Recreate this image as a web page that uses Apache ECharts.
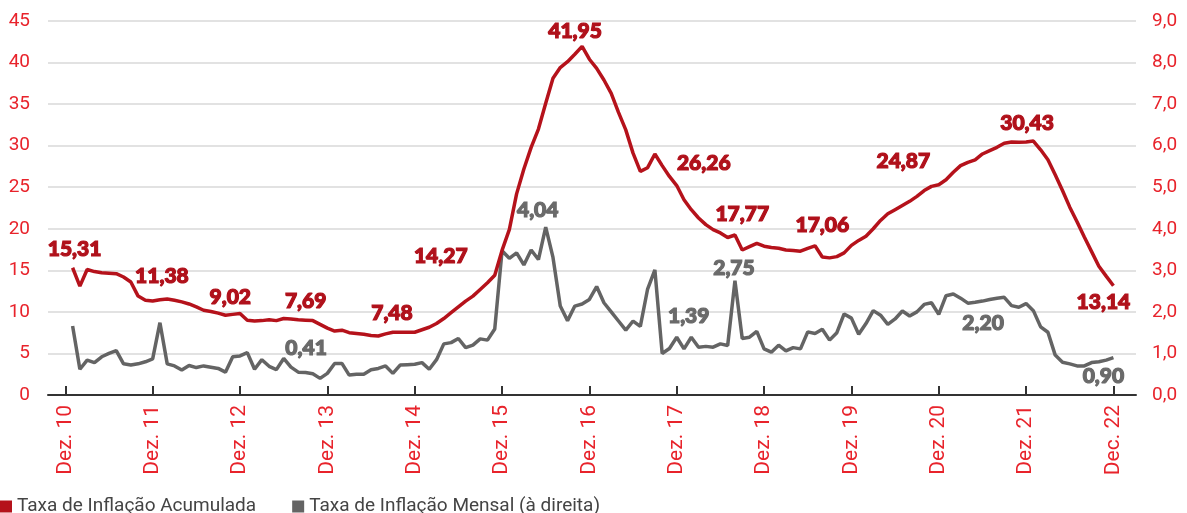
<!DOCTYPE html>
<html>
<head>
<meta charset="utf-8">
<script src="https://cdn.jsdelivr.net/npm/echarts@6/dist/echarts.min.js"></script>
<style>
html,body{margin:0;padding:0;background:#fff;}
#chart{width:1187px;height:513px;}
</style>
</head>
<body>
<div id="chart"></div>
<script>
// x tick labels (every December), month index 0 = Dec 2010
const xTickLabels = ['Dez. 10','Dez. 11','Dez. 12','Dez. 13','Dez. 14','Dez. 15','Dez. 16','Dez. 17','Dez. 18','Dez. 19','Dez. 20','Dez. 21','Dec. 22'];
const xTickMonths = [0,12,24,36,48,60,72,84,96,108,120,132,144];

// Taxa de Inflação Acumulada (left axis), months 1..144
const accum = [
15.31,13.1,15.1,14.85,14.7,14.65,14.6,14.2,13.6,11.9,11.4,11.3,
11.45,11.55,11.4,11.2,10.95,10.6,10.2,10.05,9.85,9.6,9.7,9.8,
9.0,8.9,8.95,9.05,8.95,9.2,9.15,9.05,9.0,8.95,8.5,8.05,
7.7,7.8,7.5,7.4,7.3,7.15,7.1,7.35,7.55,7.55,7.55,7.55,
7.85,8.15,8.6,9.2,9.9,10.6,11.3,11.9,12.7,13.5,14.4,17.4,
19.9,24.2,27.2,29.8,32.0,35.1,38.1,39.4,40.1,41.0,41.95,40.4,
39.3,37.9,36.3,34.0,31.9,29.1,26.9,27.35,29.0,27.6,26.3,25.2,
23.5,22.3,21.3,20.5,19.9,19.5,18.95,19.25,17.45,17.85,18.25,17.9,
17.75,17.65,17.45,17.4,17.3,17.65,17.95,16.6,16.5,16.65,17.1,18.0,
18.6,19.1,20.0,21.0,21.8,22.3,22.8,23.3,23.9,24.6,25.1,25.3,
25.9,26.8,27.6,28.0,28.3,29.0,29.4,29.8,30.3,30.45,30.4,30.45,
30.55,29.5,28.3,26.5,24.6,22.6,20.85,19.0,17.25,15.5,14.3,13.14
];

// Taxa de Inflação Mensal (right axis), months 1..144
const monthly = [
1.66,0.62,0.84,0.78,0.92,1.00,1.07,0.75,0.72,0.75,0.80,0.87,
1.74,0.75,0.70,0.60,0.71,0.66,0.70,0.67,0.64,0.55,0.92,0.94,
1.02,0.62,0.85,0.69,0.61,0.88,0.67,0.55,0.54,0.51,0.40,0.52,
0.76,0.76,0.48,0.50,0.50,0.61,0.64,0.70,0.52,0.72,0.73,0.74,
0.78,0.62,0.85,1.23,1.26,1.36,1.14,1.20,1.35,1.32,1.59,3.47,
3.29,3.42,3.13,3.49,3.26,4.04,3.31,2.14,1.79,2.14,2.19,2.30,
2.61,2.22,2.00,1.78,1.56,1.78,1.65,2.55,3.01,1.00,1.12,1.39,
1.11,1.39,1.15,1.17,1.15,1.23,1.19,2.75,1.36,1.39,1.53,1.11,
1.03,1.20,1.06,1.14,1.11,1.52,1.48,1.58,1.32,1.50,1.95,1.85,
1.46,1.72,2.03,1.92,1.70,1.83,2.02,1.90,2.00,2.18,2.22,1.94,
2.39,2.43,2.33,2.21,2.23,2.26,2.30,2.33,2.35,2.15,2.11,2.20,
2.03,1.64,1.51,0.96,0.79,0.75,0.70,0.70,0.78,0.80,0.84,0.90
];

// annotated values: [month index, value shown]
const accumNotes = [[1,15.31],[13,11.38],[25,9.02],[37,7.69],[49,7.48],[59,14.27],[71,41.95],[84,26.26],[93,17.77],[104,17.06],[115,24.87],[132,30.43],[144,13.14]];
const monthlyNotes = [[35,0.41],[66,4.04],[84,1.39],[92,2.75],[132,2.20],[144,0.90]];

const seriesNames = ['Taxa de Inflação Acumulada','Taxa de Inflação Mensal (à direita)'];

// label placement (pixels) relative to anchor point on the line
const accumOffsets = [[2,-19],[2,-24],[-17,-23],[-29,-30],[-30,-17],[-54,-19],[-7,-15],[27,-22],[0,-36],[0,-32],[1,-44],[1,-19],[-10,16]];
const monthlyOffsets = [[-14,-30],[-8,-17],[12,-21],[-1,-12],[-43,20],[-10,19]];

const RED = '#b5121b';
const AXISRED = '#e8232b';
const GRAY = '#646464';
const fmt = v => v.toFixed(2).replace('.', ',');

const toPairs = arr => arr.map((v, i) => [i + 1, v]);

function notes(list, source, offsets) {
  return list.map((n, i) => ({
    coord: [n[0], source[n[0] - 1]],
    name: fmt(n[1]),
    label: {offset: offsets[i]}
  }));
}

const noteLabel = color => ({
  show: true, position: 'inside', formatter: p => p.name,
  color: color, fontFamily: 'Lato', fontWeight: 900, fontSize: 21,
  textBorderColor: color, textBorderWidth: 1.2
});

const chart = echarts.init(document.getElementById('chart'), null, {renderer: 'canvas'});
chart.setOption({
  animation: false,
  backgroundColor: '#fff',
  grid: {left: 48, right: 51, top: 21, bottom: 118, containLabel: false},
  legend: {
    left: -5, top: 492, itemWidth: 12, itemHeight: 12, itemGap: 36, icon: 'rect',
    textStyle: {fontFamily: 'Roboto', fontSize: 19, color: '#444'},
    data: [{name: seriesNames[0], itemStyle: {color: RED}}, {name: seriesNames[1], itemStyle: {color: GRAY}}]
  },
  xAxis: {
    type: 'value', min: -2.38, max: 147.1,
    axisLine: {show: true, lineStyle: {color: '#333', width: 2}},
    axisTick: {show: true, inside: true, length: 9, lineStyle: {color: '#333', width: 2}, customValues: xTickMonths},
    axisLabel: {
      customValues: xTickMonths, rotate: 90, margin: 10,
      formatter: v => xTickLabels[xTickMonths.indexOf(Math.round(v))] || '',
      color: AXISRED, fontFamily: 'Roboto', fontSize: 21
    },
    splitLine: {show: false}
  },
  yAxis: [
    {
      type: 'value', min: 0, max: 45, interval: 5,
      axisLine: {show: false}, axisTick: {show: false},
      axisLabel: {color: AXISRED, fontFamily: 'Roboto', fontSize: 19, margin: 18},
      splitLine: {show: true, lineStyle: {color: '#d9d9d9', width: 1.5}}
    },
    {
      type: 'value', min: 0, max: 9, interval: 1, position: 'right',
      axisLine: {show: false}, axisTick: {show: false},
      axisLabel: {color: AXISRED, fontFamily: 'Roboto', fontSize: 19, margin: 16,
        formatter: v => v.toFixed(1).replace('.', ',')},
      splitLine: {show: false}
    }
  ],
  series: [
    {
      name: seriesNames[1], type: 'line', yAxisIndex: 1, data: toPairs(monthly),
      showSymbol: false, symbol: 'none', z: 2,
      lineStyle: {color: GRAY, width: 3.5}, itemStyle: {color: GRAY},
      markPoint: {symbol: 'circle', symbolSize: 0, itemStyle: {color: 'rgba(0,0,0,0)'},
        label: noteLabel('#6a6a6a'), data: notes(monthlyNotes, monthly, monthlyOffsets)}
    },
    {
      name: seriesNames[0], type: 'line', yAxisIndex: 0, data: toPairs(accum),
      showSymbol: false, symbol: 'none', z: 3,
      lineStyle: {color: RED, width: 3.5}, itemStyle: {color: RED},
      markPoint: {symbol: 'circle', symbolSize: 0, itemStyle: {color: 'rgba(0,0,0,0)'},
        label: noteLabel('#b0111b'), data: notes(accumNotes, accum, accumOffsets)}
    }
  ]
});
</script>
</body>
</html>
